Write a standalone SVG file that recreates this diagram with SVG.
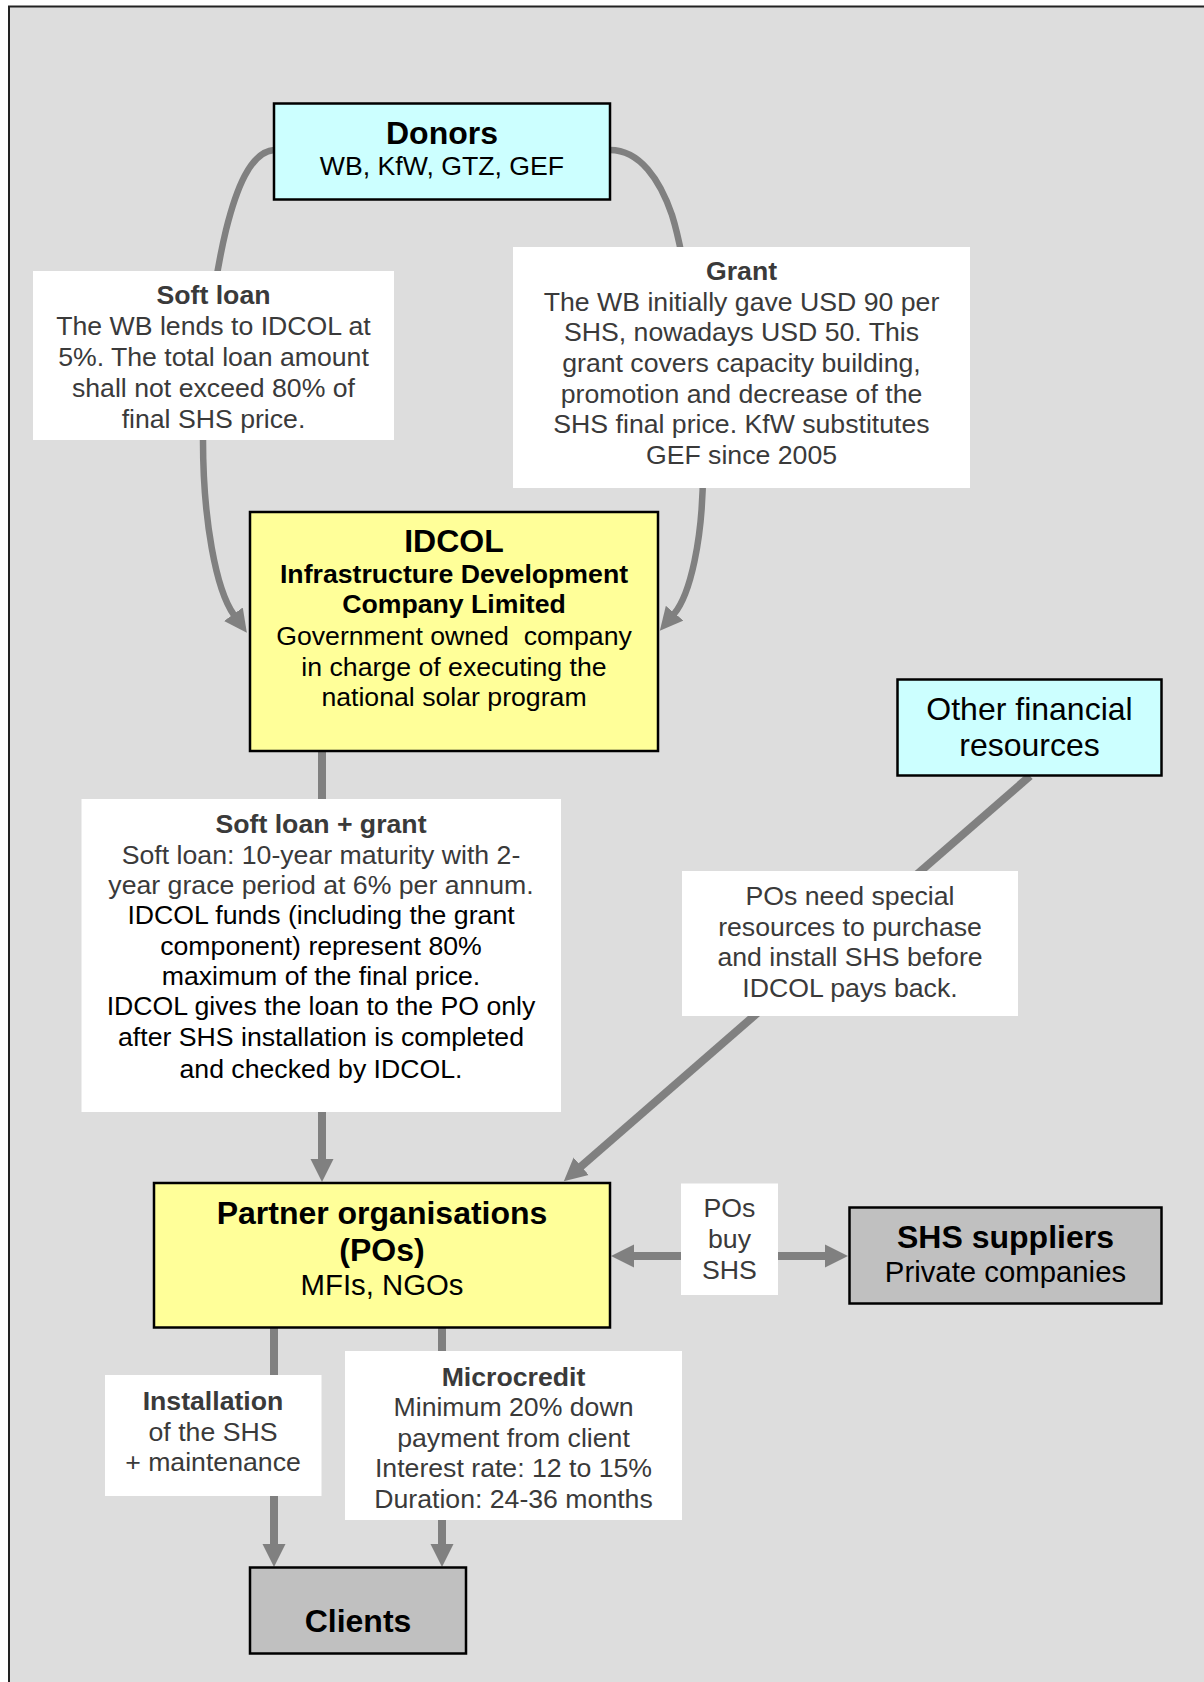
<svg xmlns="http://www.w3.org/2000/svg" width="1204" height="1682" viewBox="0 0 1204 1682">
<style>
text{font-family:"Liberation Sans",Arial,sans-serif;text-anchor:middle}
.t{font-size:26.67px}
.b{font-weight:bold}
.big{font-size:32px}
.sub{font-size:29.33px}
.lab{fill:#3a3a3a}
.blk{fill:#000}
.box{stroke:#000;stroke-width:2.5}
.cyan{fill:#ccffff}
.yel{fill:#ffff99}
.gry{fill:#c0c0c0}
.lbl{fill:#ffffff}
.con{fill:none;stroke:#808080}
.thin{stroke-width:6.5}
.thick{stroke-width:8}
</style>
<defs>
<marker id="ah" markerUnits="userSpaceOnUse" markerWidth="24" markerHeight="24" refX="1" refY="11.5" orient="auto-start-reverse" viewBox="0 0 24 23">
<path d="M0,0 L23,11.5 L0,23 z" fill="#808080"/>
</marker>
</defs>
<rect x="0" y="0" width="1204" height="1682" fill="#ffffff"/>
<rect x="9" y="6.5" width="1210" height="1690" fill="#dddddd" stroke="#222" stroke-width="2"/>

<g id="connectors">
<path class="con thin" d="M274,150 C250,152 236,190 226,230 C214,280 203,360 203,440 C203,520 216,590 234,615" marker-end="url(#ah)"/>
<path class="con thin" d="M610,150 C640,150 660,180 672,215 C686,260 703,380 703,470 C703,540 690,595 674,614" marker-end="url(#ah)"/>
<path class="con thick" d="M322,751 L322,1160" marker-end="url(#ah)"/>
<path class="con thick" d="M1030,776 L580.4,1166.9" marker-end="url(#ah)"/>
<path class="con thick" d="M633,1256 L826,1256" marker-start="url(#ah)" marker-end="url(#ah)"/>
<path class="con thick" d="M274,1328 L274,1545" marker-end="url(#ah)"/>
<path class="con thick" d="M442,1328 L442,1545" marker-end="url(#ah)"/>
</g>

<g id="label-soft-loan">
<rect class="lbl" x="33" y="271" width="361" height="169"/>
<text class="t b lab" x="213.5" y="304">Soft loan</text>
<text class="t lab" x="213.5" y="335">The WB lends to IDCOL at</text>
<text class="t lab" x="213.5" y="366">5%. The total loan amount</text>
<text class="t lab" x="213.5" y="397">shall not exceed 80% of</text>
<text class="t lab" x="213.5" y="428">final SHS price.</text>
</g>

<g id="label-grant">
<rect class="lbl" x="513" y="247" width="457" height="241"/>
<text class="t b lab" x="741.5" y="280">Grant</text>
<text class="t lab" x="741.5" y="310.7">The WB initially gave USD 90 per</text>
<text class="t lab" x="741.5" y="341.4">SHS, nowadays USD 50. This</text>
<text class="t lab" x="741.5" y="372">grant covers capacity building,</text>
<text class="t lab" x="741.5" y="402.6">promotion and decrease of the</text>
<text class="t lab" x="741.5" y="433.2">SHS final price. KfW substitutes</text>
<text class="t lab" x="741.5" y="463.8">GEF since 2005</text>
</g>

<g id="label-soft-loan-grant">
<rect class="lbl" x="81.5" y="799" width="479.5" height="313"/>
<text class="t b lab" x="321" y="832.5">Soft loan + grant</text>
<text class="t lab" x="321" y="863.5">Soft loan: 10-year maturity with 2-</text>
<text class="t lab" x="321" y="893.8">year grace period at 6% per annum.</text>
<text class="t blk" x="321" y="924.2">IDCOL funds (including the grant</text>
<text class="t blk" x="321" y="954.5">component) represent 80%</text>
<text class="t blk" x="321" y="984.5">maximum of the final price.</text>
<text class="t blk" x="321" y="1015.3">IDCOL gives the loan to the PO only</text>
<text class="t blk" x="321" y="1046.4">after SHS installation is completed</text>
<text class="t blk" x="321" y="1077.5">and checked by IDCOL.</text>
</g>

<g id="label-pos-need">
<rect class="lbl" x="682" y="871" width="336" height="145"/>
<text class="t lab" x="850" y="905.4">POs need special</text>
<text class="t lab" x="850" y="935.7">resources to purchase</text>
<text class="t lab" x="850" y="966">and install SHS before</text>
<text class="t lab" x="850" y="997">IDCOL pays back.</text>
</g>

<g id="label-pos-buy">
<rect class="lbl" x="681" y="1183.5" width="97" height="111.5"/>
<text class="t lab" x="729.5" y="1217">POs</text>
<text class="t lab" x="729.5" y="1248">buy</text>
<text class="t lab" x="729.5" y="1278.6">SHS</text>
</g>

<g id="label-installation">
<rect class="lbl" x="105" y="1375" width="216.5" height="121"/>
<text class="t b lab" x="213" y="1409.5">Installation</text>
<text class="t lab" x="213" y="1440.5">of the SHS</text>
<text class="t lab" x="213" y="1471">+ maintenance</text>
</g>

<g id="label-microcredit">
<rect class="lbl" x="345" y="1351" width="337" height="169"/>
<text class="t b lab" x="513.5" y="1385.5">Microcredit</text>
<text class="t lab" x="513.5" y="1416.3">Minimum 20% down</text>
<text class="t lab" x="513.5" y="1446.8">payment from client</text>
<text class="t lab" x="513.5" y="1477.4">Interest rate: 12 to 15%</text>
<text class="t lab" x="513.5" y="1508">Duration: 24-36 months</text>
</g>

<g id="node-donors">
<rect class="box cyan" x="274" y="103.5" width="336" height="96"/>
<text class="big b blk" x="442" y="144">Donors</text>
<text class="t blk" x="442" y="175">WB, KfW, GTZ, GEF</text>
</g>

<g id="node-idcol">
<rect class="box yel" x="250" y="512" width="408" height="239"/>
<text class="big b blk" x="454" y="551.5">IDCOL</text>
<text class="t b blk" x="454" y="582.5">Infrastructure Development</text>
<text class="t b blk" x="454" y="613">Company Limited</text>
<text class="t blk" x="454" y="645" style="white-space:pre">Government owned  company</text>
<text class="t blk" x="454" y="675.5">in charge of executing the</text>
<text class="t blk" x="454" y="705.5">national solar program</text>
</g>

<g id="node-other-financial">
<rect class="box cyan" x="897.5" y="679.5" width="264" height="96"/>
<text class="big blk" x="1029.5" y="720">Other financial</text>
<text class="big blk" x="1029.5" y="756">resources</text>
</g>

<g id="node-partner-organisations">
<rect class="box yel" x="154" y="1183" width="456" height="144.5"/>
<text class="big b blk" x="382" y="1224">Partner organisations</text>
<text class="big b blk" x="382" y="1261">(POs)</text>
<text class="sub blk" x="382" y="1295">MFIs, NGOs</text>
</g>

<g id="node-shs-suppliers">
<rect class="box gry" x="849.5" y="1207.5" width="312" height="96"/>
<text class="big b blk" x="1005.5" y="1248">SHS suppliers</text>
<text class="sub blk" x="1005.5" y="1282">Private companies</text>
</g>

<g id="node-clients">
<rect class="box gry" x="250" y="1567.5" width="216" height="86"/>
<text class="big b blk" x="358" y="1632">Clients</text>
</g>
</svg>
